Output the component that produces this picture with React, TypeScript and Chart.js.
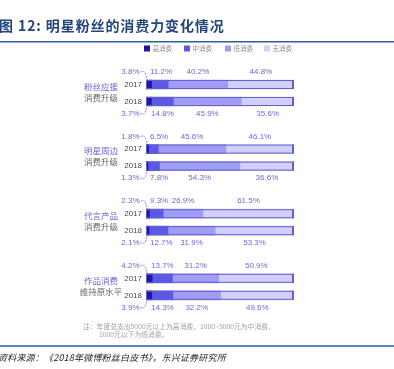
import React, { useEffect, useRef } from "react";
import { Chart, registerables } from "chart.js";

Chart.register(...registerables);

const groupNames = ["粉丝应援", "明星周边", "代言产品", "作品消费"];
const groupSubs = ["消费升级", "消费升级", "消费升级", "维持原水平"];
const years = ["2017", "2018"];
const seriesNames = ["高消费", "中消费", "低消费", "无消费"];
const highValues = [3.8, 3.7, 1.8, 1.3, 2.3, 2.1, 4.2, 3.9];
const midValues = [11.2, 14.8, 6.5, 7.8, 9.3, 12.7, 13.7, 14.3];
const lowValues = [40.2, 45.9, 45.6, 54.3, 26.9, 31.9, 31.2, 32.2];
const noneValues = [44.8, 35.6, 46.1, 36.6, 61.5, 53.3, 50.9, 49.6];
const titleText = "图 12: 明星粉丝的消费力变化情况";
const noteLines = ["注：年度总支出5000元以上为高消费，1000~5000元为中消费，", "1000元以下为低消费。"];
const sourceText = "资料来源：《2018年微博粉丝白皮书》，东兴证券研究所";

const seriesValues = [highValues, midValues, lowValues, noneValues];
const seriesColors = ["#1c18a6", "#5c58e6", "#a19df4", "#d0d0fb"];
const GROUP_STEP = 3.8;
const LABEL_COLOR = "#6d68d8";
const NUM_FONT = '"Liberation Sans", Arial, sans-serif';
const CJK_FONT = '"Noto Sans CJK SC", "Liberation Sans", sans-serif';

function rowPos(i: number) {
  return Math.floor(i / 2) * GROUP_STEP + (i % 2);
}

const decorPlugin = {
  id: "decor",
  beforeDraw(chart: any) {
    const ctx = chart.ctx;
    ctx.save();
    ctx.fillStyle = "#ffffff";
    ctx.fillRect(0, 0, chart.width, chart.height);
    ctx.restore();
  },
  afterDatasetsDraw(chart: any) {
    const ctx = chart.ctx;
    const metas = seriesValues.map((_, d) => chart.getDatasetMeta(d));
    ctx.save();
    // Title
    ctx.fillStyle = "#23457a";
    ctx.font = `bold 14px ${CJK_FONT}`;
    ctx.textAlign = "left";
    ctx.textBaseline = "middle";
    (ctx as any).letterSpacing = "0.9px";
    ctx.fillText(titleText, -1, 26);
    (ctx as any).letterSpacing = "0px";
    // top rule
    ctx.strokeStyle = "#2f5f99";
    ctx.lineWidth = 1.5;
    ctx.beginPath();
    ctx.moveTo(0, 41.8);
    ctx.lineTo(chart.width, 41.8);
    ctx.stroke();
    // Legend
    const legendX = [144, 184, 225, 264];
    seriesNames.forEach((name, d) => {
      ctx.fillStyle = seriesColors[d];
      ctx.fillRect(legendX[d], 45.5, 6, 6);
      ctx.fillStyle = "#8a8a8a";
      ctx.font = `6.5px ${CJK_FONT}`;
      ctx.textAlign = "left";
      ctx.fillText(name, legendX[d] + 8.5, 48.8);
    });

    const n = highValues.length;
    for (let i = 0; i < n; i++) {
      const first = metas[0].data[i];
      const last = metas[3].data[i];
      const h = first.height;
      const left = Math.min(first.base, first.x);
      const right = last.x;
      const top = first.y - h / 2;
      // outline
      ctx.strokeStyle = "#6560cf";
      ctx.lineWidth = 1;
      ctx.strokeRect(left + 0.5, top + 0.5, right - left - 1, h - 1);
      ctx.lineWidth = 2;
      ctx.beginPath();
      ctx.moveTo(right - 1, top);
      ctx.lineTo(right - 1, top + h);
      ctx.stroke();

      const isFirstYear = i % 2 === 0;
      const ly = isFirstYear ? first.y - 12.5 : first.y + 12;
      ctx.font = `8px ${NUM_FONT}`;
      ctx.textBaseline = "middle";
      ctx.fillStyle = LABEL_COLOR;
      for (let d = 0; d < 4; d++) {
        const el = metas[d].data[i];
        const txt = seriesValues[d][i].toFixed(1) + "%";
        if (d === 0) {
          ctx.textAlign = "right";
          ctx.fillText(txt, left - 6.5, ly);
          // connector
          ctx.save();
          ctx.strokeStyle = LABEL_COLOR;
          ctx.lineWidth = 0.9;
          ctx.setLineDash([1.6, 1.2]);
          ctx.beginPath();
          if (isFirstYear) {
            ctx.moveTo(left - 5.5, ly);
            ctx.quadraticCurveTo(left - 2, ly - 1.8, left - 0.5, ly + 1.5);
            ctx.lineTo(left + 1, top - 0.5);
          } else {
            ctx.moveTo(left - 5.5, ly);
            ctx.quadraticCurveTo(left - 2, ly + 1.8, left - 0.5, ly - 1.5);
            ctx.lineTo(left + 1, top + h + 0.5);
          }
          ctx.stroke();
          ctx.restore();
        } else {
          const w = ctx.measureText(txt).width;
          let cx = (el.x + el.base) / 2;
          if (d === 1) cx = Math.max(cx, left + 4 + w / 2);
          ctx.textAlign = "center";
          ctx.fillText(txt, cx, ly);
        }
      }
      // year label
      ctx.fillStyle = "#4a4a4a";
      ctx.font = `8px ${NUM_FONT}`;
      ctx.textAlign = "right";
      ctx.fillText(years[i % 2], left - 4, first.y);
    }

    // group labels
    for (let g = 0; g < groupNames.length; g++) {
      const a = metas[0].data[g * 2];
      const b = metas[0].data[g * 2 + 1];
      const cy = (a.y + b.y) / 2;
      ctx.textAlign = "center";
      ctx.textBaseline = "middle";
      ctx.font = `8.5px ${CJK_FONT}`;
      ctx.fillStyle = "#6a64d8";
      ctx.fillText(groupNames[g], 101, cy - 6.5);
      ctx.fillStyle = "#666666";
      ctx.fillText(groupSubs[g], 101, cy + 4.5);
    }

    // notes
    ctx.fillStyle = "#a0a0a0";
    ctx.font = `6.8px ${CJK_FONT}`;
    ctx.textAlign = "left";
    ctx.fillText(noteLines[0], 83, 326);
    ctx.fillText(noteLines[1], 99, 334.5);

    // bottom rule
    ctx.strokeStyle = "#2f5f99";
    ctx.lineWidth = 1.5;
    ctx.beginPath();
    ctx.moveTo(0, 346);
    ctx.lineTo(chart.width, 346);
    ctx.stroke();

    // source
    ctx.fillStyle = "#222222";
    ctx.font = `italic 9px ${CJK_FONT}`;
    (ctx as any).letterSpacing = "0.2px";
    ctx.fillText(sourceText, -2, 357.5);
    (ctx as any).letterSpacing = "0px";
    ctx.restore();
  },
};

export default function App() {
  const ref = useRef<HTMLCanvasElement | null>(null);
  useEffect(() => {
    if (!ref.current) return;
    const chart = new Chart(ref.current, {
      type: "bar",
      data: {
        datasets: seriesNames.map((name, d) => ({
          label: name,
          data: seriesValues[d].map((v, i) => ({ x: v, y: rowPos(i) })),
          backgroundColor: seriesColors[d],
          borderWidth: 0,
          barThickness: 9,
        })),
      },
      options: {
        indexAxis: "y",
        animation: false,
        responsive: false,
        devicePixelRatio: 1,
        layout: { padding: { left: 146, right: 100, top: 50.5, bottom: 12.5 } },
        plugins: { legend: { display: false }, tooltip: { enabled: false } },
        scales: {
          x: { type: "linear", stacked: true, min: 0, max: 100, display: false },
          y: { type: "linear", stacked: true, min: -2, max: 16, reverse: true, offset: false, display: false },
        },
      } as any,
      plugins: [decorPlugin],
    });
    return () => chart.destroy();
  }, []);
  return (
    <div style={{ position: "fixed", left: 0, top: 0, width: 394, height: 369, background: "#fff" }}>
      <canvas ref={ref} width={394} height={369} style={{ display: "block" }} />
    </div>
  );
}
